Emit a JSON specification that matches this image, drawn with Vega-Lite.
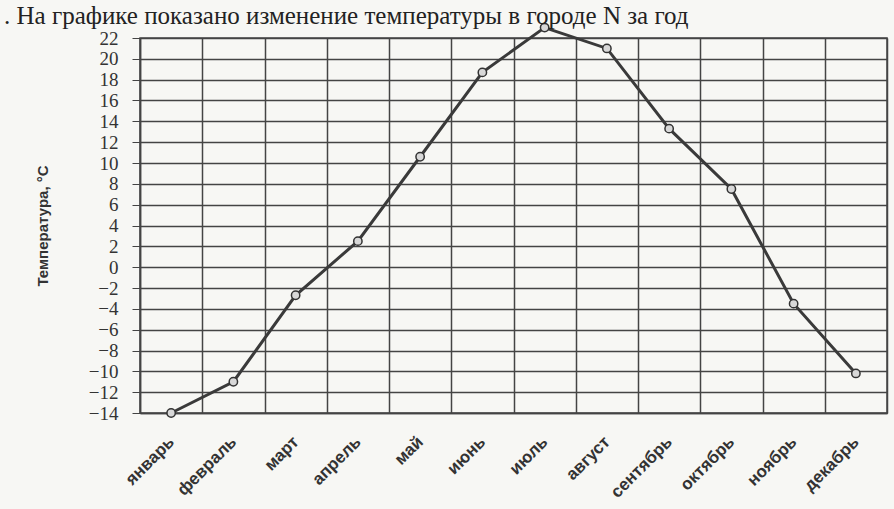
{
  "$schema": "https://vega.github.io/schema/vega-lite/v6.json",
  "autosize": "none",
  "width": 747,
  "height": 375,
  "padding": {"left": 140, "top": 38, "right": 7, "bottom": 96},
  "background": "#f7f7f4",
  "title": {
    "text": ". На графике показано изменение температуры в городе N за год",
    "anchor": "start",
    "frame": "group",
    "dx": -136,
    "offset": 0,
    "dy": 9,
    "font": "Liberation Serif",
    "fontSize": 25,
    "fontWeight": "normal",
    "color": "#222"
  },
  "data": {
    "values": [
      {"month": "январь", "t": -14},
      {"month": "февраль", "t": -11},
      {"month": "март", "t": -2.7},
      {"month": "апрель", "t": 2.5},
      {"month": "май", "t": 10.6},
      {"month": "июнь", "t": 18.7},
      {"month": "июль", "t": 23},
      {"month": "август", "t": 21},
      {"month": "сентябрь", "t": 13.3},
      {"month": "октябрь", "t": 7.5},
      {"month": "ноябрь", "t": -3.5},
      {"month": "декабрь", "t": -10.2}
    ]
  },
  "encoding": {
    "x": {
      "field": "month",
      "type": "ordinal",
      "sort": null,
      "scale": {"type": "band", "paddingInner": 0, "paddingOuter": 0},
      "axis": {
        "title": null,
        "tickBand": "extent",
        "grid": true,
        "gridColor": "#444",
        "gridWidth": 1.5,
        "gridOpacity": 1,
        "ticks": false,
        "domainColor": "#444",
        "domainWidth": 1.5,
        "labelAngle": -45,
        "labelAlign": "right",
        "labelBaseline": "middle",
        "labelPadding": 26,
        "labelFont": "Liberation Sans",
        "labelFontWeight": "bold",
        "labelFontSize": 17,
        "labelColor": "#333"
      }
    },
    "y": {
      "field": "t",
      "type": "quantitative",
      "scale": {"domain": [-14, 22], "nice": false, "zero": false},
      "axis": {
        "title": "Температура, °C",
        "titleFont": "Liberation Sans",
        "titleFontWeight": "bold",
        "titleFontSize": 15,
        "titleColor": "#333",
        "titlePadding": 38,
        "values": [-14, -12, -10, -8, -6, -4, -2, 0, 2, 4, 6, 8, 10, 12, 14, 16, 18, 20, 22],
        "grid": true,
        "gridColor": "#444",
        "gridWidth": 1.5,
        "gridOpacity": 1,
        "tickColor": "#444",
        "tickSize": 8,
        "domainColor": "#444",
        "domainWidth": 1.5,
        "labelFont": "Liberation Serif",
        "labelFontSize": 19,
        "labelColor": "#333",
        "labelPadding": 14
      }
    }
  },
  "layer": [
    {"mark": {"type": "line", "color": "#3a3a3a", "strokeWidth": 3, "clip": false}},
    {"mark": {"type": "point", "shape": "circle", "size": 70, "filled": true, "fill": "#d8d8d8", "stroke": "#333", "strokeWidth": 1.5, "opacity": 1, "clip": false}}
  ],
  "config": {
    "view": {"stroke": "#444", "strokeWidth": 1.5}
  }
}
